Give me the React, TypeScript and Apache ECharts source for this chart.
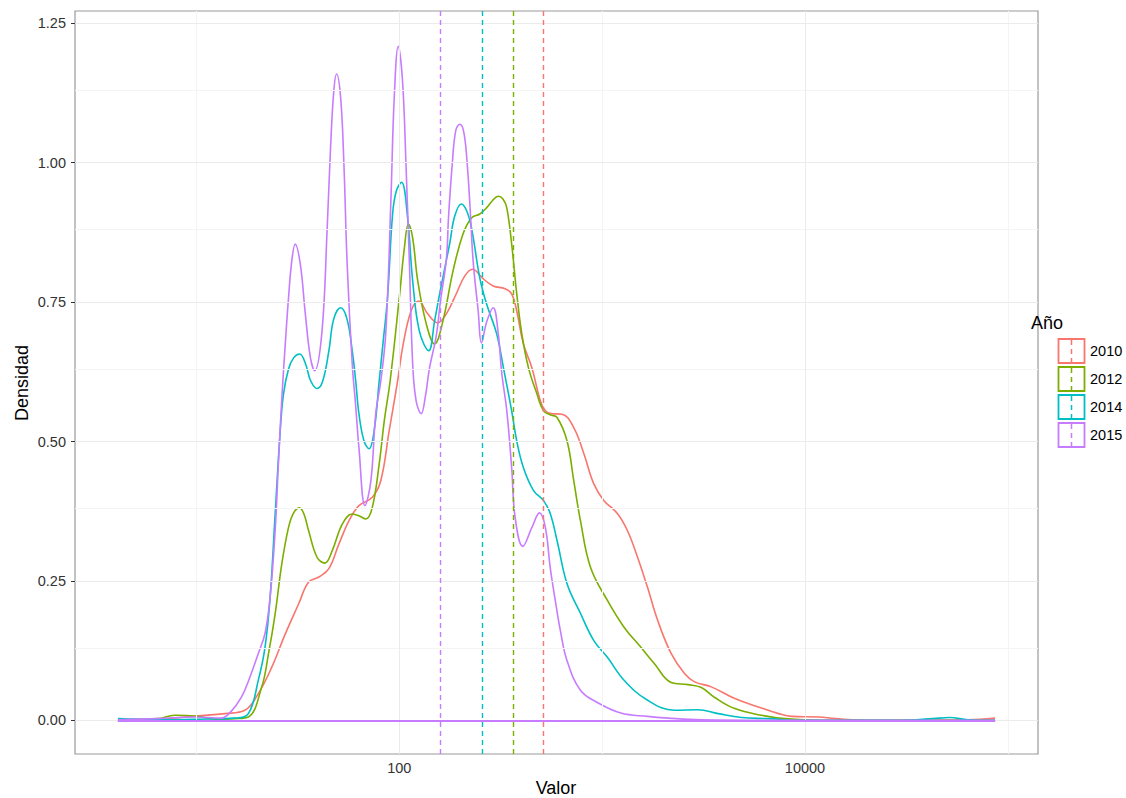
import React, { useEffect, useRef } from "react";
import * as echarts from "echarts";

// Densidad por año; x = log10(Valor), y = densidad
const years = ["2010", "2012", "2014", "2015"];
const colors = ["#F8766D", "#7CAE00", "#00BFC4", "#C77CFF"];
// log10 of the mean Valor for each year (dashed vertical lines)
const meanLog10 = [2.713, 2.565, 2.408, 2.201];

const dens2010: [number, number][] = [
  [0.613, 0.001], [0.809, 0.002], [1.007, 0.008], [1.14, 0.012], [1.239, 0.018], [1.305, 0.048],
  [1.371, 0.095], [1.438, 0.155], [1.504, 0.209], [1.553, 0.248], [1.603, 0.257], [1.653, 0.272],
  [1.702, 0.316], [1.752, 0.358], [1.801, 0.385], [1.867, 0.4], [1.909, 0.43], [1.95, 0.519],
  [1.992, 0.609], [2.016, 0.668], [2.058, 0.734], [2.096, 0.752], [2.14, 0.729], [2.19, 0.713],
  [2.232, 0.729], [2.281, 0.765], [2.323, 0.797], [2.361, 0.809], [2.413, 0.792], [2.463, 0.779],
  [2.521, 0.774], [2.554, 0.765], [2.579, 0.734], [2.612, 0.675], [2.654, 0.632], [2.695, 0.573],
  [2.72, 0.555], [2.749, 0.55], [2.802, 0.549], [2.86, 0.525], [2.91, 0.478], [2.959, 0.424],
  [3.009, 0.394], [3.075, 0.371], [3.125, 0.34], [3.175, 0.292], [3.224, 0.238], [3.274, 0.179],
  [3.34, 0.12], [3.406, 0.084], [3.456, 0.069], [3.538, 0.06], [3.654, 0.039], [3.77, 0.024],
  [3.87, 0.012], [3.935, 0.007], [4.068, 0.006], [4.15, 0.003], [4.333, 0.0], [4.804, 0.001],
  [4.937, 0.004],
];

const dens2012: [number, number][] = [
  [0.613, 0.001], [0.809, 0.003], [0.892, 0.009], [1.007, 0.007], [1.09, 0.002], [1.19, 0.003],
  [1.256, 0.006], [1.322, 0.06], [1.355, 0.119], [1.388, 0.191], [1.421, 0.281], [1.454, 0.346],
  [1.479, 0.372], [1.507, 0.381], [1.529, 0.371], [1.553, 0.34], [1.595, 0.292], [1.633, 0.282],
  [1.669, 0.304], [1.719, 0.352], [1.768, 0.37], [1.801, 0.367], [1.835, 0.361], [1.867, 0.382],
  [1.901, 0.46], [1.926, 0.537], [1.955, 0.609], [2.0, 0.758], [2.025, 0.847], [2.045, 0.89],
  [2.066, 0.865], [2.091, 0.788], [2.133, 0.711], [2.174, 0.675], [2.215, 0.716], [2.265, 0.806],
  [2.314, 0.872], [2.356, 0.901], [2.397, 0.908], [2.43, 0.919], [2.457, 0.931], [2.488, 0.94],
  [2.511, 0.935], [2.53, 0.919], [2.554, 0.854], [2.579, 0.765], [2.604, 0.693], [2.637, 0.632],
  [2.678, 0.586], [2.711, 0.555], [2.744, 0.548], [2.778, 0.543], [2.827, 0.501], [2.86, 0.43],
  [2.893, 0.358], [2.943, 0.274], [3.026, 0.215], [3.108, 0.167], [3.191, 0.131], [3.257, 0.102],
  [3.34, 0.068], [3.423, 0.064], [3.489, 0.059], [3.555, 0.041], [3.654, 0.021], [3.787, 0.009],
  [3.902, 0.003], [4.084, 0.0], [4.937, 0.0],
];

const dens2014: [number, number][] = [
  [0.613, 0.003], [0.809, 0.001], [1.007, 0.002], [1.19, 0.004], [1.256, 0.012], [1.305, 0.072],
  [1.338, 0.131], [1.363, 0.22], [1.388, 0.37], [1.413, 0.519], [1.429, 0.585], [1.454, 0.63],
  [1.479, 0.65], [1.509, 0.657], [1.538, 0.639], [1.563, 0.609], [1.595, 0.595], [1.623, 0.609],
  [1.653, 0.663], [1.677, 0.72], [1.711, 0.74], [1.742, 0.72], [1.768, 0.663], [1.785, 0.609],
  [1.801, 0.55], [1.826, 0.501], [1.851, 0.487], [1.876, 0.519], [1.901, 0.609], [1.921, 0.681],
  [1.942, 0.758], [1.967, 0.908], [1.985, 0.949], [2.011, 0.965], [2.041, 0.901], [2.066, 0.788],
  [2.099, 0.698], [2.145, 0.663], [2.174, 0.716], [2.199, 0.765], [2.248, 0.854], [2.273, 0.904],
  [2.306, 0.926], [2.333, 0.913], [2.356, 0.883], [2.397, 0.793], [2.43, 0.747], [2.48, 0.693],
  [2.513, 0.633], [2.554, 0.555], [2.579, 0.501], [2.612, 0.453], [2.662, 0.412], [2.711, 0.394],
  [2.744, 0.371], [2.778, 0.322], [2.827, 0.245], [2.893, 0.192], [2.959, 0.143], [3.026, 0.113],
  [3.108, 0.072], [3.224, 0.036], [3.356, 0.018], [3.472, 0.019], [3.572, 0.012], [3.687, 0.005],
  [3.82, 0.003], [3.985, 0.0], [4.481, 0.0], [4.63, 0.003], [4.713, 0.005], [4.804, 0.001],
  [4.937, 0.0],
];

const dens2015: [number, number][] = [
  [0.613, 0.001], [0.809, 0.003], [0.991, 0.006], [1.122, 0.004], [1.171, 0.016], [1.221, 0.041],
  [1.256, 0.07], [1.305, 0.12], [1.338, 0.156], [1.363, 0.22], [1.388, 0.34], [1.404, 0.46],
  [1.421, 0.578], [1.439, 0.681], [1.454, 0.758], [1.47, 0.824], [1.487, 0.854], [1.512, 0.818],
  [1.537, 0.728], [1.562, 0.65], [1.583, 0.627], [1.619, 0.698], [1.644, 0.878], [1.661, 1.026],
  [1.677, 1.128], [1.691, 1.159], [1.711, 1.116], [1.727, 0.997], [1.743, 0.818], [1.768, 0.639],
  [1.785, 0.564], [1.801, 0.489], [1.831, 0.385], [1.86, 0.43], [1.884, 0.55], [1.909, 0.609],
  [1.934, 0.698], [1.959, 0.937], [1.975, 1.116], [1.995, 1.209], [2.016, 1.146], [2.033, 0.997],
  [2.05, 0.818], [2.066, 0.639], [2.083, 0.573], [2.108, 0.55], [2.129, 0.582], [2.149, 0.632],
  [2.182, 0.689], [2.203, 0.752], [2.232, 0.827], [2.243, 0.904], [2.261, 0.997], [2.278, 1.057],
  [2.298, 1.069], [2.318, 1.055], [2.335, 0.997], [2.35, 0.913], [2.364, 0.824], [2.389, 0.734],
  [2.405, 0.677], [2.432, 0.716], [2.463, 0.74], [2.488, 0.693], [2.505, 0.623], [2.53, 0.555],
  [2.554, 0.453], [2.571, 0.364], [2.609, 0.312], [2.654, 0.346], [2.691, 0.372], [2.72, 0.346],
  [2.744, 0.274], [2.769, 0.215], [2.794, 0.161], [2.827, 0.107], [2.893, 0.054], [2.976, 0.032],
  [3.092, 0.013], [3.224, 0.007], [3.324, 0.004], [3.489, 0.001], [3.985, 0.0], [4.937, 0.0],
];

const densities = [dens2010, dens2012, dens2014, dens2015];

// axis ticks / grid (x in log10 units)
const xTickLog10 = [2, 4];
const xMinorLog10 = [1, 3, 5];
const yTicks = [0, 0.25, 0.5, 0.75, 1.0, 1.25];
const yMinor = [0.125, 0.375, 0.625, 0.875, 1.125];

const FONT = "'Liberation Sans', Arial, Helvetica, sans-serif";

export default function App() {
  const ref = useRef<HTMLDivElement>(null);

  useEffect(() => {
    if (!ref.current) return;
    const chart = echarts.init(ref.current, undefined, { renderer: "svg" });

    const gridLines: any[] = [
      ...xMinorLog10.map((v) => ({ xAxis: v, lineStyle: { color: "#f4f4f4", width: 1, type: "solid" } })),
      ...yMinor.map((v) => ({ yAxis: v, lineStyle: { color: "#f4f4f4", width: 1, type: "solid" } })),
      ...xTickLog10.map((v) => ({ xAxis: v, lineStyle: { color: "#ebebeb", width: 1, type: "solid" } })),
      ...yTicks.map((v) => ({ yAxis: v, lineStyle: { color: "#ebebeb", width: 1, type: "solid" } })),
    ];

    const series: any[] = [
      {
        type: "line",
        data: [],
        silent: true,
        z: 1,
        markLine: { silent: true, symbol: ["none", "none"], label: { show: false }, data: gridLines, animation: false },
      },
    ];

    densities.forEach((d, i) => {
      series.push({
        name: years[i],
        type: "line",
        data: d,
        smooth: 0.4,
        showSymbol: false,
        silent: true,
        z: 2,
        lineStyle: { color: colors[i], width: 1.6 },
        markLine: {
          silent: true,
          symbol: ["none", "none"],
          label: { show: false },
          animation: false,
          data: [
            [
              { coord: [d[0][0], 0], lineStyle: { color: colors[i], width: 2.2, type: "solid" } },
              { coord: [d[d.length - 1][0], 0] },
            ],
          ],
        },
      });
    });

    series.push({
      type: "line",
      data: [],
      silent: true,
      z: 3,
      markLine: {
        silent: true,
        symbol: ["none", "none"],
        label: { show: false },
        animation: false,
        data: meanLog10.map((v, i) => ({ xAxis: v, lineStyle: { color: colors[i], width: 1.4, type: [5, 4] } })),
      },
    });

    const legendGraphics: any[] = [
      {
        type: "text",
        x: 1031,
        y: 323,
        style: { text: "Año", fontSize: 18, fontFamily: FONT, fill: "#000", align: "left", verticalAlign: "middle" },
      },
    ];
    years.forEach((yr, i) => {
      const cy = 351 + i * 28;
      legendGraphics.push({
        type: "rect",
        shape: { x: 1058.5, y: cy - 12, width: 26, height: 24 },
        style: { fill: "#fff", stroke: colors[i], lineWidth: 1.8 },
      });
      legendGraphics.push({
        type: "line",
        shape: { x1: 1071.5, y1: cy - 11, x2: 1071.5, y2: cy + 11 },
        style: { stroke: colors[i], lineWidth: 1.5, lineDash: [5, 4] },
      });
      legendGraphics.push({
        type: "text",
        x: 1090,
        y: cy,
        style: { text: yr, fontSize: 14.5, fontFamily: FONT, fill: "#000", align: "left", verticalAlign: "middle" },
      });
    });

    chart.setOption({
      animation: false,
      backgroundColor: "#fff",
      grid: {
        left: 75,
        top: 11,
        width: 963,
        height: 743,
        show: true,
        borderColor: "#9a9a9a",
        borderWidth: 1.2,
        backgroundColor: "transparent",
      },
      xAxis: {
        type: "value",
        min: 0.4013,
        max: 5.1487,
        axisLine: { show: false },
        splitLine: { show: false },
        axisTick: { show: true, customValues: xTickLog10, length: 4, lineStyle: { color: "#333", width: 1 } },
        axisLabel: {
          customValues: xTickLog10,
          formatter: (v: number) => String(Math.round(Math.pow(10, v))),
          margin: 6,
          fontSize: 14.5,
          fontFamily: FONT,
          color: "#333",
        },
      },
      yAxis: {
        type: "value",
        min: -0.0604,
        max: 1.2721,
        axisLine: { show: false },
        splitLine: { show: false },
        axisTick: { show: true, customValues: yTicks, length: 4, lineStyle: { color: "#333", width: 1 } },
        axisLabel: {
          customValues: yTicks,
          formatter: (v: number) => v.toFixed(2),
          margin: 9,
          fontSize: 14.5,
          fontFamily: FONT,
          color: "#333",
        },
      },
      graphic: [
        {
          type: "text",
          x: 556,
          y: 788,
          style: { text: "Valor", fontSize: 18, fontFamily: FONT, fill: "#000", align: "center", verticalAlign: "middle" },
        },
        {
          type: "text",
          x: 22,
          y: 383,
          rotation: Math.PI / 2,
          style: { text: "Densidad", fontSize: 18, fontFamily: FONT, fill: "#000", align: "center", verticalAlign: "middle" },
        },
        ...legendGraphics,
      ],
      series,
    });

    return () => chart.dispose();
  }, []);

  return <div ref={ref} style={{ position: "fixed", left: 0, top: 0, width: 1126, height: 798 }} />;
}
